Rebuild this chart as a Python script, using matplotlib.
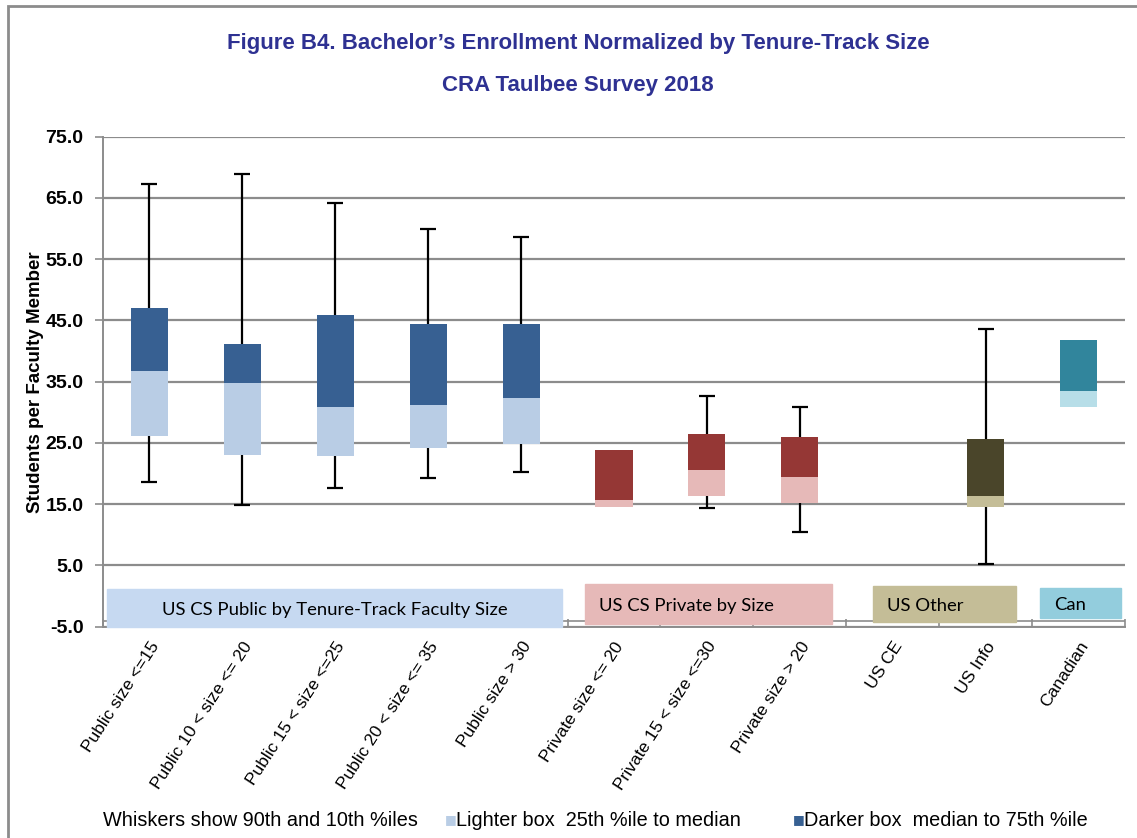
import numpy as np
import matplotlib
matplotlib.use("Agg")
import matplotlib.pyplot as plt
from matplotlib.patches import Rectangle

#%% data

categories = ["Public size <=15", "Public 10 < size <= 20", "Public 15 < size <=25",
              "Public 20 < size <= 35", "Public size > 30", "Private size <= 20",
              "Private 15 < size <=30", "Private size > 20", "US CE", "US Info", "Canadian"]
p10 = [18.7, 14.9, 17.7, 19.2, 20.3, np.nan, 14.4, 10.4, np.nan, 5.2, np.nan]
q25 = [26.1, 23.0, 22.8, 24.2, 24.9, 14.5, 16.4, 15.2, np.nan, 14.6, 30.8]
med = [36.7, 34.8, 30.9, 31.2, 32.4, 15.7, 20.6, 19.5, np.nan, 16.3, 33.5]
q75 = [47.1, 41.2, 45.9, 44.4, 44.4, 23.8, 26.5, 26.0, np.nan, 25.6, 41.8]
p90 = [67.2, 68.9, 64.1, 59.9, 58.7, np.nan, 32.6, 30.8, np.nan, 43.6, np.nan]
group = ["pub"] * 5 + ["priv"] * 3 + ["other"] * 2 + ["can"]

# group label boxes under the plot
group_labels = ["US CS Public by Tenure-Track Faculty Size", "US CS Private by Size", "US Other", "Can"]

#%% styles

light = {"pub": "#b9cde5", "priv": "#e6b9b8", "other": "#c4bd97", "can": "#b7dee8"}
dark = {"pub": "#376092", "priv": "#953735", "other": "#4a452a", "can": "#31859c"}
band_col = ["#c6d9f1", "#e6b9b8", "#c4bd97", "#93cddd"]
band_x = [(-0.46, 4.44), (4.69, 7.35), (7.79, 9.33), (9.59, 10.46)]
band_y = [(-5.0, 1.2), (-4.5, 2.0), (-4.3, 1.6), (-3.6, 1.3)]
band_tx = ["center", "left", "left", "left"]
grid_col = "#8c8c8c"
sans = "Liberation Sans"

fig = plt.figure(figsize=(11.37, 8.38), dpi=100)
ax = fig.add_axes([103 / 1137, 1 - 626.7 / 838, 1022 / 1137, 490 / 838])

x = np.arange(len(categories))
q25a, meda, q75a = np.array(q25), np.array(med), np.array(q75)
p10a, p90a = np.array(p10), np.array(p90)

# whiskers behind the boxes
has_w = ~np.isnan(p10a)
ax.errorbar(x[has_w], meda[has_w], yerr=[meda[has_w] - p10a[has_w], p90a[has_w] - meda[has_w]],
            fmt="none", ecolor="black", elinewidth=1.6, capsize=6, capthick=1.6, zorder=2)

ax.bar(x, meda - q25a, bottom=q25a, width=0.4, color=[light[g] for g in group], zorder=3)
ax.bar(x, q75a - meda, bottom=meda, width=0.4, color=[dark[g] for g in group], zorder=3)

# group bands with their labels
for lab, c, (x0, x1), (y0, y1), ha in zip(group_labels, band_col, band_x, band_y, band_tx):
    ax.add_patch(Rectangle((x0, y0), x1 - x0, y1 - y0, color=c, zorder=4, clip_on=False))
    tx = (x0 + x1) / 2 if ha == "center" else x0 + 0.15
    ax.text(tx, (y0 + y1) / 2 - 0.3, lab, ha=ha, va="center", fontsize=13.3,
            family=["Lato", "DejaVu Sans"], zorder=5)

ax.set_xlim(-0.5, len(categories) - 0.5)
ax.set_ylim(-5, 75)
ax.set_yticks(np.arange(-5, 76, 10))
ax.set_yticklabels([f"{v:.1f}" for v in np.arange(-5, 76, 10)], fontsize=14,
                   fontweight="bold", family=sans)
ax.yaxis.grid(True, color=grid_col, linewidth=1.6)
ax.set_axisbelow(True)
ax.tick_params(axis="y", length=6, color=grid_col, width=1.2, pad=8)

ax.set_xticks(x)
ax.set_xticklabels(categories, rotation=57, ha="right", rotation_mode="anchor",
                   fontsize=12.5, family=sans)
ax.set_xticks(np.arange(-0.5, len(categories)), minor=True)
ax.tick_params(axis="x", which="major", length=0, pad=9)
ax.tick_params(axis="x", which="minor", direction="in", length=6, color=grid_col, width=1.2)
ax.axhline(-4.0, color=grid_col, linewidth=1.2, zorder=1)

for s in ["top", "right"]:
    ax.spines[s].set_visible(False)
for s in ["left", "bottom"]:
    ax.spines[s].set_color(grid_col)
    ax.spines[s].set_linewidth(1.4)

ax.set_ylabel("Students per Faculty Member", fontsize=13.5, fontweight="bold",
              family=sans, labelpad=1)

#%% titles, frame and bottom note

title_font = [sans, "DejaVu Sans"]
fig.text(578 / 1137, 1 - 43 / 838, "Figure B4. Bachelor\u2019s Enrollment Normalized by Tenure-Track Size",
         ha="center", va="center", fontsize=16, fontweight="bold", color="#2e3192", family=title_font)
fig.text(578 / 1137, 1 - 86 / 838, "CRA Taulbee Survey 2018",
         ha="center", va="center", fontsize=16, fontweight="bold", color="#2e3192", family=title_font)

fig.patches.append(Rectangle((8 / 1137, -0.1), 1.2, 1.1 - 6 / 838, transform=fig.transFigure,
                             fill=False, edgecolor=grid_col, linewidth=2))

fig.text(103 / 1137, 1 - 820 / 838, "Whiskers show 90th and 10th %iles", va="center",
         fontsize=14.3, family=sans)
fig.text(445 / 1137, 1 - 820 / 838, "\u25a0", va="center", fontsize=9, color=light["pub"])
fig.text(456 / 1137, 1 - 820 / 838, "Lighter box  25th %ile to median", va="center",
         fontsize=14.3, family=sans)
fig.text(793 / 1137, 1 - 820 / 838, "\u25a0", va="center", fontsize=9, color=dark["pub"])
fig.text(804 / 1137, 1 - 820 / 838, "Darker box  median to 75th %ile", va="center",
         fontsize=14.3, family=sans)

fig.savefig("out.png", dpi=100)
